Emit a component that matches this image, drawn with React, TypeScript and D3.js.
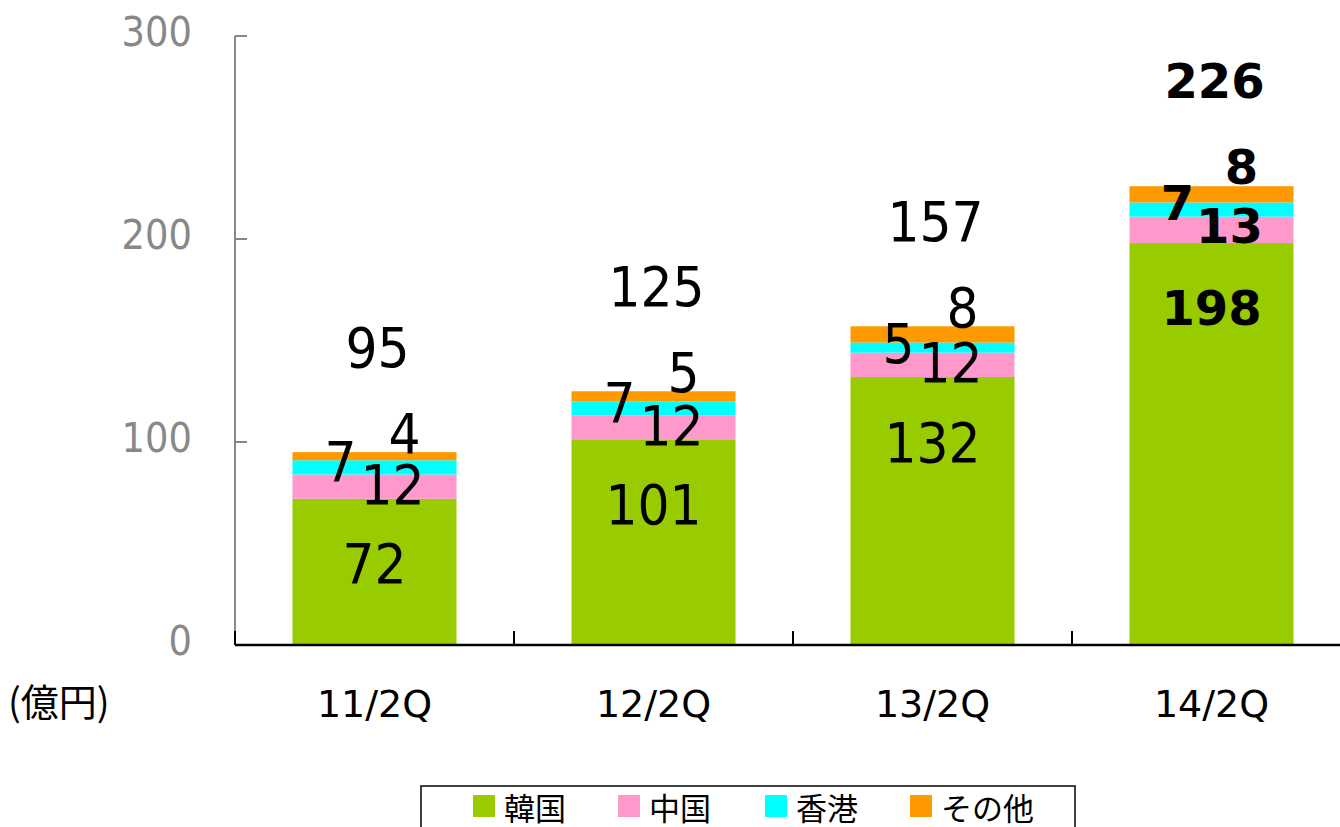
import React from "react";
import * as d3 from "d3";

const categories = ["11/2Q", "12/2Q", "13/2Q", "14/2Q"];
const seriesNames = ["韓国", "中国", "香港", "その他"];
const korea = [72, 101, 132, 198];
const china = [12, 12, 12, 13];
const hongkong = [7, 7, 5, 7];
const others = [4, 5, 8, 8];
const totals = [95, 125, 157, 226];
const yTicks = [0, 100, 200, 300];
const unitLabel = "(億円)";

const colors = ["#99CC00", "#FF99CC", "#00FFFF", "#FF9900"];

const W = 1340;
const H = 827;

export default function App() {
  const x = d3
    .scaleBand<string>()
    .domain(categories)
    .range([235, 1351])
    .paddingInner(0.412)
    .paddingOuter(0.206);
  const y = d3.scaleLinear().domain([0, 300]).range([645, 36]);

  const rows = categories.map((c, i) => ({
    cat: c,
    "韓国": korea[i],
    "中国": china[i],
    "香港": hongkong[i],
    "その他": others[i],
  }));
  const stack = d3.stack<any>().keys(seriesNames)(rows);

  const numFont = "'DejaVu Sans Condensed', 'DejaVu Sans', sans-serif";
  const regFont = "'DejaVu Sans', sans-serif";
  const cjkFont = "'Noto Sans CJK JP', sans-serif";

  // label offsets per series (px relative to segment top), and dx from bar center
  const labelOff = [
    { dy: 67, dx: 0 },
    { dy: 12, dx: 18 },
    { dy: 3, dx: -34 },
    { dy: -17, dx: 30 },
  ];
  const seriesVals = [korea, china, hongkong, others];

  const bw = x.bandwidth();
  const lastIdx = categories.length - 1;

  const valueText = (
    key: string,
    cx: number,
    cy: number,
    v: number,
    bold: boolean
  ) => {
    const fs = bold ? 48 : 56;
    return (
      <text
        key={key}
        x={cx}
        y={cy + (bold ? 14.5 : 17.5)}
        textAnchor="middle"
        fontFamily={bold ? regFont : numFont}
        fontWeight={bold ? "bold" : "normal"}
        fontSize={fs}
        fill="#000"
      >
        {v}
      </text>
    );
  };

  const legendX = [473, 618, 765, 910];

  return (
    <svg
      width={W}
      height={H}
      style={{ position: "absolute", left: 0, top: 0, background: "#fff" }}
    >
      {/* bars */}
      {stack.map((s, si) =>
        s.map((d, i) => (
          <rect
            key={`${si}-${i}`}
            x={x(categories[i])!}
            y={y(d[1])}
            width={bw}
            height={y(d[0]) - y(d[1])}
            fill={colors[si]}
          />
        ))
      )}

      {/* y axis */}
      <line x1={235} x2={235} y1={y(300)} y2={y(0)} stroke="#888" strokeWidth={2} />
      {yTicks.map((t) => (
        <g key={t}>
          {t > 0 && (
            <line x1={235} x2={247} y1={y(t)} y2={y(t)} stroke="#888" strokeWidth={2} />
          )}
          <text
            x={192}
            y={y(t) - 5 + 15}
            textAnchor="end"
            fontFamily={numFont}
            fontSize={41}
            fill="#888"
          >
            {t}
          </text>
        </g>
      ))}

      {/* x axis */}
      <line x1={235} x2={W} y1={y(0)} y2={y(0)} stroke="#000" strokeWidth={2.5} />
      {categories.map((c) => {
        const x0 = x(c)! - x.step() * x.paddingOuter();
        return (
          <line key={c} x1={x0} x2={x0} y1={y(0)} y2={y(0) - 14} stroke="#000" strokeWidth={2} />
        );
      })}
      {categories.map((c) => (
        <text
          key={c}
          x={x(c)! + bw / 2}
          y={717}
          textAnchor="middle"
          fontFamily={regFont}
          fontSize={38}
          fill="#000"
        >
          {c}
        </text>
      ))}
      <text x={8} y={716} fontFamily={cjkFont} fontSize={38} fill="#000">
        {unitLabel}
      </text>

      {/* value labels */}
      {stack.map((s, si) =>
        s.map((d, i) =>
          valueText(
            `v${si}-${i}`,
            x(categories[i])! + bw / 2 + labelOff[si].dx,
            y(d[1]) + labelOff[si].dy,
            seriesVals[si][i],
            i === lastIdx
          )
        )
      )}
      {totals.map((t, i) =>
        valueText(`t${i}`, x(categories[i])! + bw / 2 + 3, y(t) - 103, t, i === lastIdx)
      )}

      {/* legend */}
      <rect x={421} y={786} width={654} height={60} fill="#fff" stroke="#000" strokeWidth={1.5} />
      {seriesNames.map((n, i) => (
        <g key={n}>
          <rect x={legendX[i]} y={795} width={22} height={22} fill={colors[i]} />
          <text
            x={legendX[i] + 31}
            y={820}
            fontFamily={cjkFont}
            fontSize={31}
            fill="#000"
          >
            {n}
          </text>
        </g>
      ))}
    </svg>
  );
}
